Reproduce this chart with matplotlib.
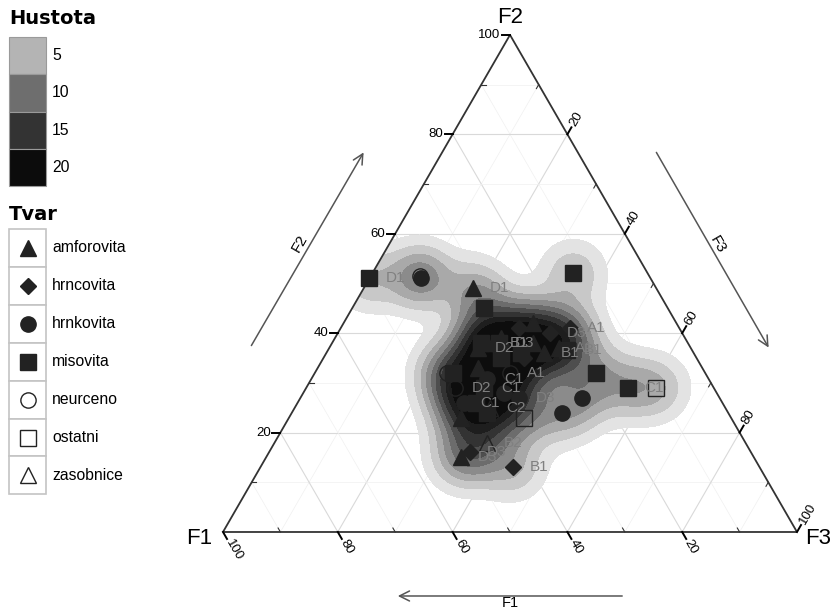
import numpy as np
import matplotlib
matplotlib.use('Agg')
import matplotlib.pyplot as plt
from matplotlib.patches import Polygon, Rectangle

plt.rcParams['font.family'] = ['Liberation Sans', 'DejaVu Sans']

# slozeni vzorku v procentech (F1, F2, F3), tvar nadoby a stitek
f1 = [49, 40, 40, 32, 13, 32, 19, 15, 10, 24, 29, 36, 45, 51, 49, 43,
      45, 45, 45, 41, 35, 39, 40, 34, 37, 34, 33, 19, 23, 23, 26, 22,
      25, 32, 39, 34, 43, 36, 44, 28, 47, 37, 42, 30, 30, 27]
f2 = [51, 51, 51.5, 49, 52, 45, 32, 29, 29, 27, 24, 23, 18, 15, 16, 13,
      32, 29, 26, 25, 27, 31, 29, 32, 37, 38, 38, 41, 40, 37, 36, 37,
      42, 39, 33, 35, 26, 38, 32, 41, 23, 28, 24, 35, 36, 38]
f3 = [0, 9, 8.5, 19, 35, 23, 49, 56, 61, 49, 47, 41, 37, 34, 35, 44,
      23, 26, 29, 34, 38, 31, 31, 34, 26, 28, 29, 40, 37, 40, 38, 42,
      33, 29, 28, 31, 31, 26, 24, 31, 30, 35, 34, 35, 34, 35]
tvar = ['misovita', 'hrnkovita', 'neurceno', 'amforovita', 'misovita', 'misovita',
        'misovita', 'misovita', 'ostatni', 'hrnkovita', 'hrnkovita', 'ostatni',
        'zasobnice', 'amforovita', 'hrncovita', 'hrncovita',
        'neurceno', 'neurceno', 'hrnkovita', 'zasobnice', 'hrnkovita', 'hrnkovita',
        'misovita', 'neurceno', 'amforovita', 'amforovita', 'misovita', 'hrncovita',
        'hrncovita', 'amforovita', 'amforovita', 'misovita',
        'amforovita', 'amforovita', 'amforovita', 'misovita', 'misovita', 'misovita',
        'misovita', 'hrncovita', 'amforovita', 'hrnkovita', 'misovita',
        'hrncovita', 'misovita', 'amforovita']
stitek = ['D1', '', '', 'D1', '', '', '', 'C1', '', '', '', '', 'B2', 'D3', 'D3', 'B1',
          '', 'D2', 'C1', 'C2', 'D3', 'C1', 'C1', 'A1', 'D2', 'B1', 'D3', 'A1',
          'D3', 'A1', 'B1', 'B1',
          '', '', '', '', '', '', '', '', '', '', '', '', '', '']

tvary = ['amforovita', 'hrncovita', 'hrnkovita', 'misovita', 'neurceno', 'ostatni', 'zasobnice']
znacky = {'amforovita': ('^', True, 12), 'hrncovita': ('D', True, 8),
          'hrnkovita': ('o', True, 11), 'misovita': ('s', True, 11),
          'neurceno': ('o', False, 11), 'ostatni': ('s', False, 11),
          'zasobnice': ('^', False, 12)}
hustota_popisky = ['5', '10', '15', '20']
hustota_barvy = ['#b4b4b4', '#6e6e6e', '#333333', '#0c0c0c']

S3 = np.sqrt(3) / 2


def tern(a, b, c):
    a, b, c = np.asarray(a, float), np.asarray(b, float), np.asarray(c, float)
    s = a + b + c
    return (c + b / 2) / s, b / s * S3


fig = plt.figure(figsize=(8.3, 6.1), dpi=100)
ax = fig.add_axes([0, 0, 1, 1])
ax.set_xlim(-0.3885, 1.0575)
ax.set_ylim(-0.1359, 0.9268)
ax.axis('off')

tri = Polygon([(0, 0), (1, 0), (0.5, S3)], closed=True, fill=False,
              edgecolor='#333333', lw=1.3, zorder=5)

# mrizka
for v in range(10, 100, 10):
    major = v % 20 == 0
    col = '#d9d9d9' if major else '#f0f0f0'
    lw = 0.8 if major else 0.5
    w = 100 - v
    for p, q in [((w, v, 0), (0, v, w)), ((v, w, 0), (v, 0, w)), ((w, 0, v), (0, w, v))]:
        x, y = tern([p[0], q[0]], [p[1], q[1]], [p[2], q[2]])
        ax.plot(x, y, color=col, lw=lw, zorder=1)

# hustota
px, py = tern(f1, f2, f3)
gx, gy = np.meshgrid(np.linspace(-0.02, 1.02, 420), np.linspace(-0.02, 0.9, 380))
sig = 0.036
z = np.zeros_like(gx)
for xi, yi in zip(px, py):
    z += np.exp(-((gx - xi) ** 2 + (gy - yi) ** 2) / (2 * sig ** 2))
z /= 2 * np.pi * sig ** 2 * len(px)
zmax = z.max()
fr = [0.03, 0.075, 0.13, 0.19, 0.26, 0.33, 0.41, 0.50, 0.60, 1.01]
barvy = ['#e3e3e3', '#c8c8c8', '#a9a9a9', '#8b8b8b', '#6c6c6c', '#4e4e4e',
         '#333333', '#1e1e1e', '#0d0d0d']
cs = ax.contourf(gx, gy, z, levels=[f * zmax for f in fr], colors=barvy, zorder=2)
clip = Polygon([(0, 0), (1, 0), (0.5, S3)], closed=True, transform=ax.transData)
cs.set_clip_path(clip)
ax.add_patch(tri)

# body
for t in tvary:
    idx = [i for i, k in enumerate(tvar) if k == t]
    m, filled, ms = znacky[t]
    ax.plot(px[idx], py[idx], ls='none', marker=m, ms=ms,
            mfc='#222222' if filled else 'none', mec='#222222', mew=1.0, zorder=6)
for i, s in enumerate(stitek):
    if s:
        ax.annotate(s, (px[i], py[i]), xytext=(12, 0), textcoords='offset points',
                    ha='left', va='center', fontsize=11, color='#808080', zorder=7)

# osy a popisky
tl = 0.014
for v in range(10, 101, 10):
    major = v % 20 == 0
    # F2 (leva strana)
    x, y = tern(100 - v, v, 0)
    if major:
        ax.plot([x, x - tl], [y, y], color='black', lw=1.4, zorder=5)
        ax.text(x - tl - 0.003, y, str(v), ha='right', va='center', fontsize=9.5)
    else:
        ax.plot([x, x + 0.008], [y, y], color='#333333', lw=0.8, zorder=5)
    # F3 (prava strana)
    x, y = tern(0, 100 - v, v)
    if major:
        ax.plot([x, x + tl * 0.5], [y, y + tl * S3], color='black', lw=1.4, zorder=5)
        ax.text(x + 0.018 * 0.5, y + 0.018 * S3, str(v), ha='left', va='center',
                rotation=60, rotation_mode='anchor', fontsize=9.5)
    else:
        ax.plot([x, x - 0.004], [y, y - 0.008 * S3], color='#333333', lw=0.8, zorder=5)
    # F1 (spodni strana)
    x, y = tern(v, 0, 100 - v)
    if major:
        ax.plot([x, x + tl * 0.5], [y, y - tl * S3], color='black', lw=1.4, zorder=5)
        ax.text(x + 0.018 * 0.5, y - 0.018 * S3, str(v), ha='left', va='center',
                rotation=-60, rotation_mode='anchor', fontsize=9.5)
    else:
        ax.plot([x, x - 0.004], [y, y + 0.008 * S3], color='#333333', lw=0.8, zorder=5)

ax.text(-0.042, -0.0105, 'F1', ha='center', va='center', fontsize=16)
ax.text(1.037, -0.0105, 'F3', ha='center', va='center', fontsize=16)
ax.text(0.5, 0.8955, 'F2', ha='center', va='center', fontsize=16)

ap = dict(arrowstyle='->', color='#555555', lw=1.1, mutation_scale=18)
ax.annotate('', xy=(0.2474, 0.6655), xytext=(0.047, 0.3206), arrowprops=ap)
ax.annotate('', xy=(0.953, 0.3171), xytext=(0.7526, 0.6655), arrowprops=ap)
ax.annotate('', xy=(0.2997, -0.1115), xytext=(0.7003, -0.1115), arrowprops=ap)
ax.text(0.134, 0.5035, 'F2', rotation=60, ha='center', va='center', fontsize=11)
ax.text(0.8624, 0.5, 'F3', rotation=-60, ha='center', va='center', fontsize=11)
ax.text(0.5, -0.1245, 'F1', ha='center', va='center', fontsize=10.5)

# legendy
lg = fig.add_axes([0, 0, 1, 1])
lg.set_xlim(0, 830)
lg.set_ylim(610, 0)
lg.axis('off')
lg.text(9, 18, 'Hustota', fontsize=14, fontweight='bold', family='DejaVu Sans',
        va='center', ha='left')
for i, (lab, c) in enumerate(zip(hustota_popisky, hustota_barvy)):
    y0 = 37 + i * 37.3
    lg.add_patch(Rectangle((9, y0), 37, 37.3, facecolor=c, edgecolor='#9a9a9a', lw=0.8))
    lg.text(52, y0 + 18.6, lab, fontsize=11.3, va='center', ha='left')
lg.text(9, 215, 'Tvar', fontsize=14, fontweight='bold', family='DejaVu Sans',
        va='center', ha='left')
for i, t in enumerate(tvary):
    y0 = 229 + i * 37.9
    lg.add_patch(Rectangle((9, y0), 37, 37.9, facecolor='white', edgecolor='#c4c4c4', lw=1.2))
    m, filled, ms = znacky[t]
    lg.plot([27.5], [y0 + 19], marker=m, ms=ms, ls='none',
            mfc='#222222' if filled else 'none', mec='#222222', mew=1.0)
    lg.text(52, y0 + 19, t, fontsize=11.3, va='center', ha='left')

fig.savefig('out.png', dpi=100)
